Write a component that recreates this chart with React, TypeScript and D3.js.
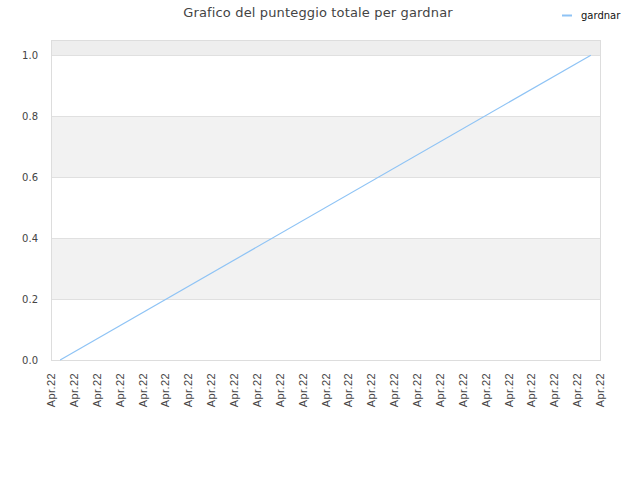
import React, { useRef, useEffect } from 'react';
import * as d3 from 'd3';

const chartTitle = 'Grafico del punteggio totale per gardnar';
const seriesName = 'gardnar';
// x positions in tick units (25 ticks, 0..24) and score values
const seriesX = [0.4, 23.6];
const seriesY = [0, 1];
const tickLabels = Array.from({ length: 25 }, () => 'Apr.22');
const yTicks = [0, 0.2, 0.4, 0.6, 0.8, 1.0];

const W = 640;
const H = 480;

export default function App() {
  const svgRef = useRef<SVGSVGElement>(null);

  useEffect(() => {
    if (!svgRef.current) return;
    const margin = { top: 40, right: 40, bottom: 120, left: 51 };
    const width = W - margin.left - margin.right;
    const innerHeight = H - margin.top - margin.bottom;

    const svg = d3.select(svgRef.current);
    svg.selectAll('*').remove();

    const x = d3.scaleLinear().domain([0, tickLabels.length - 1]).range([0, width]);
    const y = d3.scaleLinear().domain([0, 1.05]).range([innerHeight, 0]);

    const g = svg.append('g').attr('transform', `translate(${margin.left},${margin.top})`);

    // alternating bands
    const bands: [number, number, string][] = [
      [0.2, 0.4, '#f2f2f2'],
      [0.6, 0.8, '#f2f2f2'],
      [1.0, 1.05, '#eeeeee'],
    ];
    g.selectAll('rect.band')
      .data(bands)
      .enter()
      .append('rect')
      .attr('x', 0)
      .attr('width', width)
      .attr('y', d => y(d[1]))
      .attr('height', d => y(d[0]) - y(d[1]))
      .attr('fill', d => d[2]);

    // grid lines
    g.selectAll('line.grid')
      .data(yTicks)
      .enter()
      .append('line')
      .attr('x1', 0)
      .attr('x2', width)
      .attr('y1', d => Math.round(y(d)) + 0.5)
      .attr('y2', d => Math.round(y(d)) + 0.5)
      .attr('stroke', '#e0e0e0');

    // border
    g.append('rect')
      .attr('x', 0.5)
      .attr('y', 0.5)
      .attr('width', width)
      .attr('height', innerHeight)
      .attr('fill', 'none')
      .attr('stroke', '#dddddd');

    // y labels
    g.selectAll('text.ylab')
      .data(yTicks)
      .enter()
      .append('text')
      .attr('x', -13)
      .attr('y', d => y(d))
      .attr('dy', '0.35em')
      .attr('text-anchor', 'end')
      .attr('font-family', 'DejaVu Sans')
      .attr('font-size', 10)
      .attr('fill', '#444')
      .text(d => d.toFixed(1));

    // x labels
    g.selectAll('text.xlab')
      .data(tickLabels)
      .enter()
      .append('text')
      .attr('transform', (_, i) => `translate(${x(i) + 4},${innerHeight + 13}) rotate(-90)`)
      .attr('text-anchor', 'end')
      .attr('font-family', 'Liberation Sans, Arial')
      .attr('font-size', 11)
      .attr('letter-spacing', 0.4)
      .attr('fill', '#444')
      .text(d => d);

    // line
    const pts = seriesX.map((v, i) => [v, seriesY[i]] as [number, number]);
    const line = d3.line<[number, number]>().x(d => x(d[0])).y(d => y(d[1]));
    g.append('path')
      .datum(pts)
      .attr('fill', 'none')
      .attr('stroke', '#8ec3f5')
      .attr('stroke-width', 1.2)
      .attr('d', line);

    // title
    svg.append('text')
      .attr('x', 318)
      .attr('y', 17)
      .attr('text-anchor', 'middle')
      .attr('font-family', 'DejaVu Sans')
      .attr('font-size', 13)
      .attr('letter-spacing', 0.15)
      .attr('fill', '#444')
      .text(chartTitle);

    // legend
    svg.append('line')
      .attr('x1', 562)
      .attr('x2', 572)
      .attr('y1', 15.5)
      .attr('y2', 15.5)
      .attr('stroke', '#8ec3f5')
      .attr('stroke-width', 2);
    svg.append('text')
      .attr('x', 581)
      .attr('y', 15)
      .attr('dy', '0.35em')
      .attr('font-family', 'DejaVu Sans')
      .attr('font-size', 10)
      .attr('fill', '#111')
      .text(seriesName);
  }, []);

  return (
    <svg
      ref={svgRef}
      width={W}
      height={H}
      style={{ position: 'absolute', left: 0, top: 0, background: '#fff' }}
    />
  );
}
